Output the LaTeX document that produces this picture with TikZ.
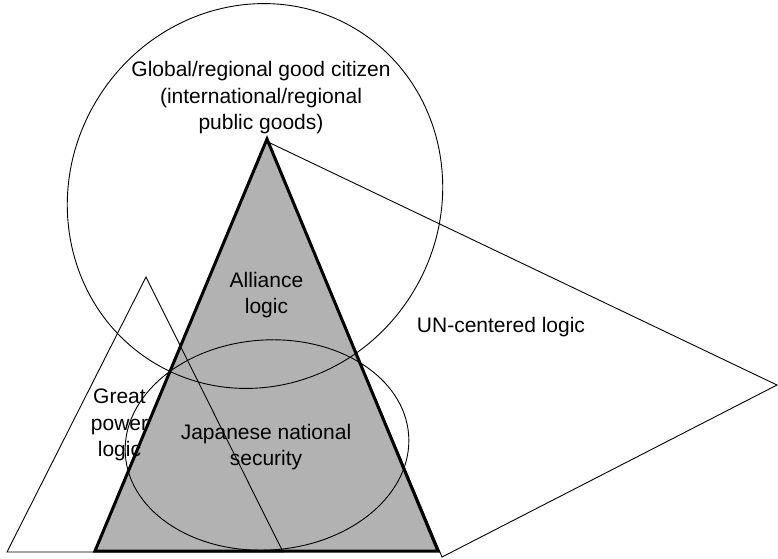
\documentclass[tikz,border=0pt]{standalone}
\usepackage{fontspec}
\setmainfont{Liberation Sans}
\tikzstyle{zona} = [draw=black, line width=0.9pt]
\tikzstyle{nucleo} = [fill=black!30]
\tikzstyle{contorno} = [draw=black, line width=3pt, line join=miter]
\tikzstyle{rotulo} = [align=center, inner sep=0pt, font=\fontsize{21}{26.5}\selectfont]
\begin{document}
\begin{tikzpicture}[x=1pt,y=-1pt]
	\useasboundingbox (0,0) rectangle (778,558);
	\coordinate (apex) at (267,139);
	\coordinate (baseL) at (95,551);
	\coordinate (baseR) at (438,551);
	\coordinate (unA) at (268,142);
	\coordinate (unR) at (777,385);
	\coordinate (unB) at (442,557);
	\coordinate (gpA) at (146,277);
	\coordinate (gpL) at (7,552);
	\coordinate (gpR) at (283,552);
	% logicas
	\draw[zona] (unA) -- (unR) -- (unB) -- cycle;
	\fill[nucleo] (apex) -- (baseL) -- (baseR) -- cycle;
	\draw[zona] (gpL) -- (gpA) -- (gpR) -- cycle;
	\draw[zona, rotate around={-31:(255,196)}] (255,196) ellipse [x radius=185pt, y radius=195pt];
	\draw[zona, rotate around={4:(267,445)}] (267,445) ellipse [x radius=142pt, y radius=105pt];
	\draw[contorno] (apex) -- (baseL) -- (baseR) -- cycle;
	% textos
	\node[rotulo] (global) at (261,98) {Global/regional good citizen\\(international/regional\\public goods)};
	\node[rotulo] (alianza) at (266.5,295) {Alliance\\logic};
	\node[rotulo] (potencia) at (119.5,425) {Great\\power\\logic};
	\node[rotulo] (nacional) at (266,447) {Japanese national\\security};
	\node[rotulo] (onu) at (501,327) {UN-centered logic};
\end{tikzpicture}
\end{document}
